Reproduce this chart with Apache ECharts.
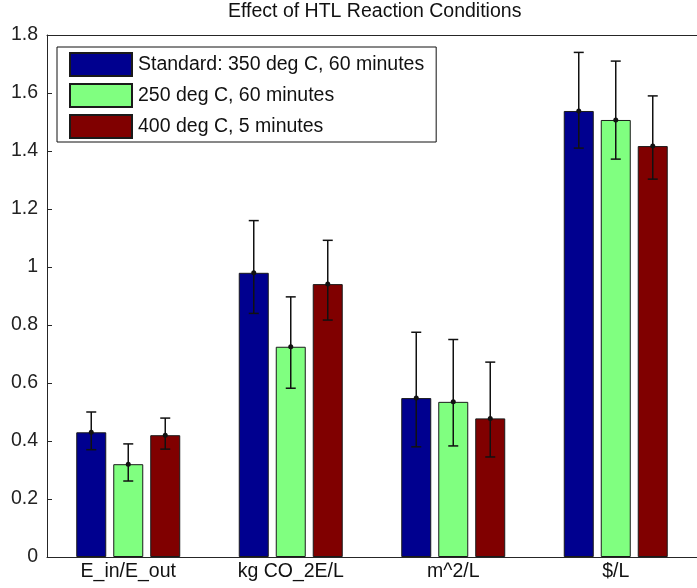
<!DOCTYPE html>
<html>
<head>
<meta charset="utf-8">
<script src="https://cdn.jsdelivr.net/npm/echarts@6/dist/echarts.min.js"></script>
<style>
html,body{margin:0;padding:0;background:#fff;}
#chart{width:697px;height:588px;}
</style>
</head>
<body>
<div id="chart"></div>
<script>
// ---- data ----
const categories = ['E_in/E_out', 'kg CO_2E/L', 'm^2/L', '$/L'];
const seriesNames = ['Standard: 350 deg C, 60 minutes', '250 deg C, 60 minutes', '400 deg C, 5 minutes'];
const standardValues = [0.43, 0.98, 0.548, 1.538];
const standardLower  = [0.37, 0.84, 0.38, 1.41];
const standardUpper  = [0.50, 1.16, 0.775, 1.74];
const lowTempValues  = [0.32, 0.725, 0.535, 1.507];
const lowTempLower   = [0.262, 0.582, 0.383, 1.372];
const lowTempUpper   = [0.39, 0.897, 0.75, 1.71];
const fastValues     = [0.42, 0.941, 0.478, 1.417];
const fastLower      = [0.372, 0.817, 0.345, 1.303];
const fastUpper      = [0.479, 1.092, 0.672, 1.59];
const yTicks = [0, 0.2, 0.4, 0.6, 0.8, 1, 1.2, 1.4, 1.6, 1.8];

// ---- style ----
const colors = ['#00008F', '#80FF80', '#800000'];
const BAR_W = 30, BAR_GAP = 7;
const FONT = 'Liberation Sans, Arial, sans-serif';
const FS = 19.5;
const AX = '#262626';

const values = [standardValues, lowTempValues, fastValues];
const lowers = [standardLower, lowTempLower, fastLower];
const uppers = [standardUpper, lowTempUpper, fastUpper];

function makeErr(k) {
  const off = (k - 1) * (BAR_W + BAR_GAP);
  return function (params, api) {
    const c = api.value(0);
    const x = api.coord([c, 0])[0] + off;
    const yv = api.coord([c, api.value(1)])[1];
    const ylo = api.coord([c, api.value(2)])[1];
    const yhi = api.coord([c, api.value(3)])[1];
    const cap = 5;
    const st = { stroke: '#111', lineWidth: 1.5 };
    return {
      type: 'group',
      children: [
        { type: 'line', shape: { x1: x, y1: ylo, x2: x, y2: yhi }, style: st },
        { type: 'line', shape: { x1: x - cap, y1: yhi, x2: x + cap, y2: yhi }, style: st },
        { type: 'line', shape: { x1: x - cap, y1: ylo, x2: x + cap, y2: ylo }, style: st },
        { type: 'circle', shape: { cx: x, cy: yv, r: 2.5 }, style: { fill: '#111' } }
      ]
    };
  };
}

const series = [];
for (let k = 0; k < 3; k++) {
  series.push({
    name: seriesNames[k],
    type: 'bar',
    data: values[k],
    barWidth: BAR_W,
    barGap: (BAR_GAP / BAR_W * 100).toFixed(1) + '%',
    itemStyle: { color: colors[k], borderColor: '#1a1a1a', borderWidth: 1 },
    emphasis: { disabled: true },
    z: 2
  });
}
for (let k = 0; k < 3; k++) {
  series.push({
    type: 'custom',
    name: 'err' + k,
    renderItem: makeErr(k),
    data: categories.map((c, i) => [i, values[k][i], lowers[k][i], uppers[k][i]]),
    encode: { x: 0, y: [1, 2, 3] },
    z: 5,
    silent: true
  });
}

const chart = echarts.init(document.getElementById('chart'), null, { renderer: 'canvas' });
chart.setOption({
  animation: false,
  backgroundColor: '#fff',
  textStyle: { fontFamily: FONT },
  title: {
    text: 'Effect of HTL Reaction Conditions',
    left: 228, top: 2, padding: 0,
    textStyle: { fontFamily: FONT, fontSize: FS, fontWeight: 'normal', color: '#111' }
  },
  legend: {
    data: seriesNames,
    orient: 'vertical',
    left: 57, top: 47,
    padding: [5, 12, 3, 12],
    itemWidth: 62, itemHeight: 23, itemGap: 6,
    borderColor: '#111', borderWidth: 1,
    backgroundColor: '#fff',
    icon: 'rect',
    selectedMode: false,
    textStyle: { fontFamily: FONT, fontSize: FS, color: '#111', padding: [0, 0, 0, 1] },
    z: 10
  },
  grid: { left: 47, top: 35, width: 658, height: 522, containLabel: false },
  xAxis: [
    {
      type: 'category', data: categories, position: 'bottom', boundaryGap: true,
      axisLine: { lineStyle: { color: AX, width: 1 } },
      axisTick: { inside: true, length: 5, alignWithLabel: true, lineStyle: { color: AX } },
      axisLabel: { margin: 5, fontFamily: FONT, fontSize: FS, color: '#111' },
      splitLine: { show: false }
    },
    {
      type: 'category', data: categories, position: 'top', boundaryGap: true,
      axisLine: { lineStyle: { color: AX, width: 1 } },
      axisTick: { inside: true, length: 5, alignWithLabel: true, lineStyle: { color: AX } },
      axisLabel: { show: false },
      splitLine: { show: false }
    }
  ],
  yAxis: {
    type: 'value', min: 0, max: 1.8, interval: 0.2,
    axisLine: { show: true, lineStyle: { color: AX, width: 1 } },
    axisTick: { show: true, inside: true, length: 5, lineStyle: { color: AX } },
    axisLabel: {
      margin: 9, fontFamily: FONT, fontSize: FS, color: '#222',
      formatter: v => { const t = yTicks.find(x => Math.abs(x - v) < 1e-9); return String(t !== undefined ? t : v); }
    },
    splitLine: { show: false }
  },
  series: series
});
</script>
</body>
</html>
